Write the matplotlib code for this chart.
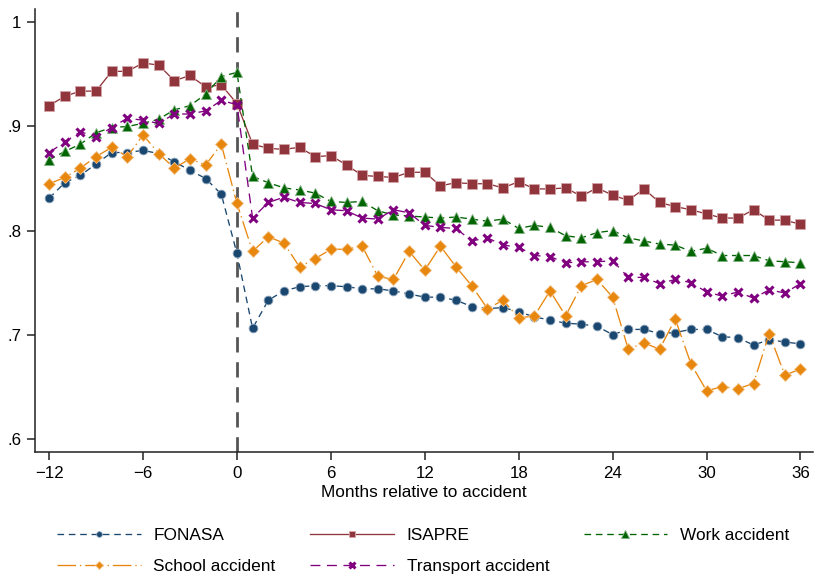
import matplotlib
matplotlib.use("Agg")
import matplotlib.pyplot as plt
from matplotlib.ticker import FuncFormatter

plt.rcParams['font.family'] = ['Liberation Sans', 'DejaVu Sans']

months = list(range(-12, 37))

fonasa = [0.831, 0.846, 0.853, 0.864, 0.875, 0.875, 0.877, 0.874, 0.866, 0.858, 0.850, 0.835,
          0.778, 0.706, 0.733, 0.742, 0.746, 0.747, 0.747, 0.746, 0.744, 0.744, 0.742, 0.739,
          0.736, 0.736, 0.733, 0.727, 0.725, 0.726, 0.722, 0.717, 0.714, 0.711, 0.710, 0.708,
          0.700, 0.705, 0.705, 0.701, 0.702, 0.705, 0.705, 0.698, 0.697, 0.690, 0.695, 0.693,
          0.691]
isapre = [0.920, 0.929, 0.934, 0.934, 0.953, 0.953, 0.961, 0.959, 0.944, 0.949, 0.938, 0.940,
          0.922, 0.883, 0.879, 0.878, 0.880, 0.871, 0.872, 0.863, 0.853, 0.852, 0.851, 0.856,
          0.856, 0.843, 0.846, 0.845, 0.845, 0.841, 0.847, 0.840, 0.840, 0.841, 0.833, 0.841,
          0.834, 0.829, 0.840, 0.827, 0.823, 0.820, 0.816, 0.812, 0.812, 0.820, 0.810, 0.810,
          0.806]
work = [0.868, 0.876, 0.883, 0.894, 0.899, 0.900, 0.903, 0.907, 0.916, 0.920, 0.931, 0.948,
        0.952, 0.852, 0.846, 0.841, 0.839, 0.836, 0.828, 0.827, 0.828, 0.819, 0.815, 0.814,
        0.813, 0.812, 0.813, 0.811, 0.809, 0.811, 0.802, 0.805, 0.803, 0.795, 0.793, 0.798,
        0.800, 0.793, 0.790, 0.787, 0.786, 0.780, 0.783, 0.776, 0.776, 0.776, 0.771, 0.770,
        0.769]
school = [0.845, 0.851, 0.860, 0.871, 0.880, 0.871, 0.892, 0.874, 0.860, 0.869, 0.863, 0.883,
          0.826, 0.780, 0.794, 0.788, 0.765, 0.773, 0.782, 0.782, 0.785, 0.756, 0.753, 0.780,
          0.762, 0.785, 0.765, 0.747, 0.725, 0.733, 0.716, 0.718, 0.742, 0.718, 0.747, 0.753,
          0.736, 0.686, 0.692, 0.686, 0.715, 0.672, 0.646, 0.650, 0.648, 0.653, 0.701, 0.661,
          0.667]
transport = [0.875, 0.885, 0.895, 0.890, 0.899, 0.908, 0.906, 0.903, 0.912, 0.912, 0.915, 0.925,
             0.921, 0.812, 0.827, 0.832, 0.827, 0.826, 0.820, 0.819, 0.812, 0.811, 0.820, 0.817,
             0.805, 0.803, 0.802, 0.790, 0.793, 0.786, 0.784, 0.776, 0.775, 0.769, 0.770, 0.770,
             0.771, 0.755, 0.755, 0.749, 0.753, 0.750, 0.741, 0.737, 0.741, 0.735, 0.743, 0.740,
             0.749]

fig = plt.figure(figsize=(8.17, 5.78), dpi=100)
ax = fig.add_axes([35 / 817, 1 - 452 / 578, 778 / 817, 443 / 578])

lw = 0.95
h_fon, = ax.plot(months, fonasa, color='#1a476f', lw=lw, dashes=(5, 3.6),
                 marker='o', ms=6.3, mec='#8fa6bb', mew=0.6, label='FONASA')
h_isa, = ax.plot(months, isapre, color='#90353b', lw=lw,
                 marker='s', ms=6.6, mec='#d4a6a9', mew=0.6, label='ISAPRE')
h_wrk, = ax.plot(months, work, color='#006400', lw=lw, dashes=(5, 3.6),
                 marker='^', ms=7.8, mec='#80b080', mew=0.6, label='Work accident')
h_sch, = ax.plot(months, school, color='#e8870e', lw=lw, dashes=(14, 3, 1, 3),
                 marker='D', ms=6.3, mec='#f4c38a', mew=0.6, label='School accident')
h_trn, = ax.plot(months, transport, color='#800080', lw=lw, dashes=(7.5, 5),
                 marker='x', ms=6.3, mew=2.2, label='Transport accident')

ax.axvline(0, color='#555555', lw=2, dashes=(5.5, 3.5), zorder=1)

ax.set_xlim(-12.9, 36.8)
ax.set_ylim(0.5872, 1.0129)
ax.set_xticks(range(-12, 37, 6))
ax.set_yticks([0.6, 0.7, 0.8, 0.9, 1.0])
ax.yaxis.set_major_formatter(FuncFormatter(
    lambda v, p: '1' if abs(v - 1) < 1e-9 else ('%.1f' % v).lstrip('0')))

for s in ['top', 'right']:
    ax.spines[s].set_visible(False)
for s in ['left', 'bottom']:
    ax.spines[s].set_linewidth(1.1)
    ax.spines[s].set_color('#222222')
ax.tick_params(axis='both', length=6, width=1.1, color='#222222',
               labelsize=12.2, pad=4)
ax.set_xlabel('Months relative to accident', fontsize=12.4, labelpad=3)

# column-major fill so rows read FONASA/ISAPRE/Work, School/Transport
handles = [h_fon, h_sch, h_isa, h_trn, h_wrk]
fig.legend(handles=handles, labels=[h.get_label() for h in handles],
           ncol=3, loc='upper left', bbox_to_anchor=(57 / 817, 1 - 528 / 578),
           frameon=False, fontsize=12.4, borderpad=0, borderaxespad=0,
           handlelength=4.85, handletextpad=0.75, columnspacing=2.0,
           labelspacing=0.9, markerscale=0.65)

fig.savefig('out.png', dpi=100)
